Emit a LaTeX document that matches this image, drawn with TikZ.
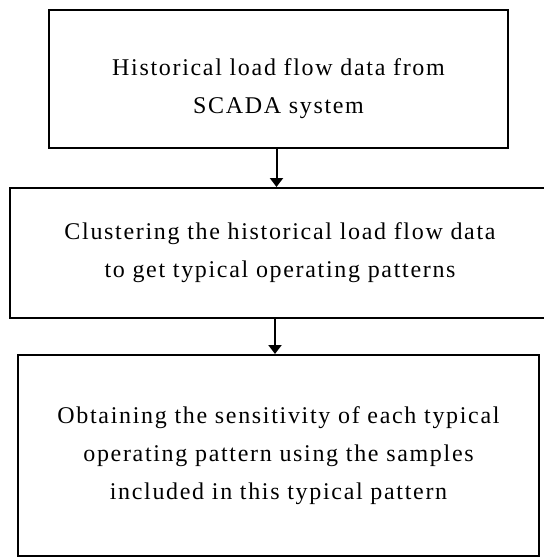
\documentclass[tikz,border=0pt]{standalone}
\usepackage{fontspec}
\setmainfont{Liberation Serif}[LetterSpace=7]
\usepackage{tikz}
\usetikzlibrary{shapes.geometric, arrows.meta, positioning}
\tikzstyle{block} = [rectangle, draw=black, line width=2pt, align=center, font=\fontsize{24}{38}\selectfont]
\tikzstyle{arrow} = [line width=2pt,-{Triangle[width=13pt,length=9pt]}]

\begin{document}
\begin{tikzpicture}[x=1pt,y=-1pt]
    \clip (0,0) rectangle (544,558);
    % the three steps
    \node[block, minimum width=459pt, minimum height=138pt] (scada) at (278.5,79)
        {\rule{0pt}{36pt}Historical load flow data from\\SCADA system};
    \node[block, minimum width=540pt, minimum height=130pt] (cluster) at (280,253)
        {Clustering the historical load flow data\\to get typical operating patterns};
    \node[block, minimum width=521pt, minimum height=201pt] (sens) at (278.5,455.5)
        {Obtaining the sensitivity of each typical\\operating pattern using the samples\\included in this typical pattern};
    % arrows between the steps
    \draw[arrow] ([xshift=-2pt]scada.south) -- ([xshift=-2pt]scada.south |- cluster.north);
    \draw[arrow] ([xshift=-5pt]cluster.south) -- ([xshift=-5pt]cluster.south |- sens.north);
\end{tikzpicture}
\end{document}
